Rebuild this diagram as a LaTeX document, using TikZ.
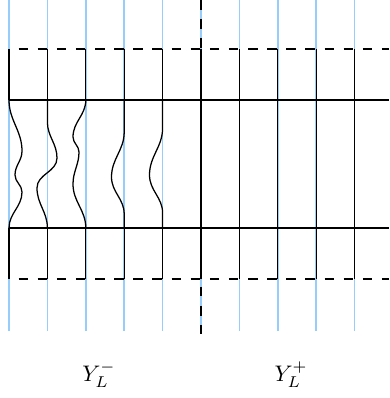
\documentclass[tikz,border=0pt]{standalone}
\begin{document}
\begin{tikzpicture}[x=0.025cm,y=-0.025cm,
  guide/.style={draw={rgb,255:red,150;green,205;blue,250},line width=1.1pt},
  strand/.style={draw=black,line width=0.9pt},
  dashline/.style={draw=black,line width=0.9pt,dash pattern=on 6.8pt off 6.8pt},
  lab/.style={scale=1.6,transform shape,inner sep=0pt}]
\useasboundingbox (0,0) rectangle (389,398);
% blue guide lines
\foreach \k in {0,...,9}{
  \draw[guide] ({9+38.4*\k},0) -- ({9+38.4*\k},331);
}
% horizontal lines
\draw[dashline,dash phase=6.8pt] (9,49) -- (389,49);
\draw[dashline,dash phase=6.8pt] (9,279) -- (389,279);
\draw[strand] (9,100) -- (389,100);
\draw[strand] (9,228) -- (389,228);
% centre line
\draw[dashline] (201,0) -- (201,334);
\draw[strand] (201,49) -- (201,279);
% right straight strands
\foreach \k in {6,...,9}{
  \draw[strand] ({9+38.4*\k},49) -- ({9+38.4*\k},279);
}
% left stubs
\foreach \k in {0,...,4}{
  \draw[strand] ({9+38.4*\k},49) -- ({9+38.4*\k},100);
  \draw[strand] ({9+38.4*\k},228) -- ({9+38.4*\k},279);
}
% wavy strands
\draw[strand] (9,100) to[out=-90,in=90] (22,151) to[out=-90,in=90] (15,175)
  to[out=-90,in=90] (22,192) to[out=-90,in=90] (9,228);
\draw[strand] (47.4,100) -- (47.4,122) to[out=-90,in=90] (57,158)
  to[out=-90,in=90] (37,188) to[out=-90,in=90] (47.4,228);
\draw[strand] (85.8,100) to[out=-90,in=90] (73,137) to[out=-90,in=90] (79,152)
  to[out=-90,in=90] (73,184) to[out=-90,in=90] (85.8,228);
\draw[strand] (124.2,100) -- (124.2,132) to[out=-90,in=90] (111.5,177)
  to[out=-90,in=90] (124.2,214) -- (124.2,228);
\draw[strand] (162.6,100) -- (162.6,128) to[out=-90,in=90] (149.5,175)
  to[out=-90,in=90] (162.6,213) -- (162.6,228);
% labels
\node[lab] (ym) at (99,375) {$Y_L^-$};
\node[lab] (yp) at (291,375) {$Y_L^+$};
\end{tikzpicture}
\end{document}
